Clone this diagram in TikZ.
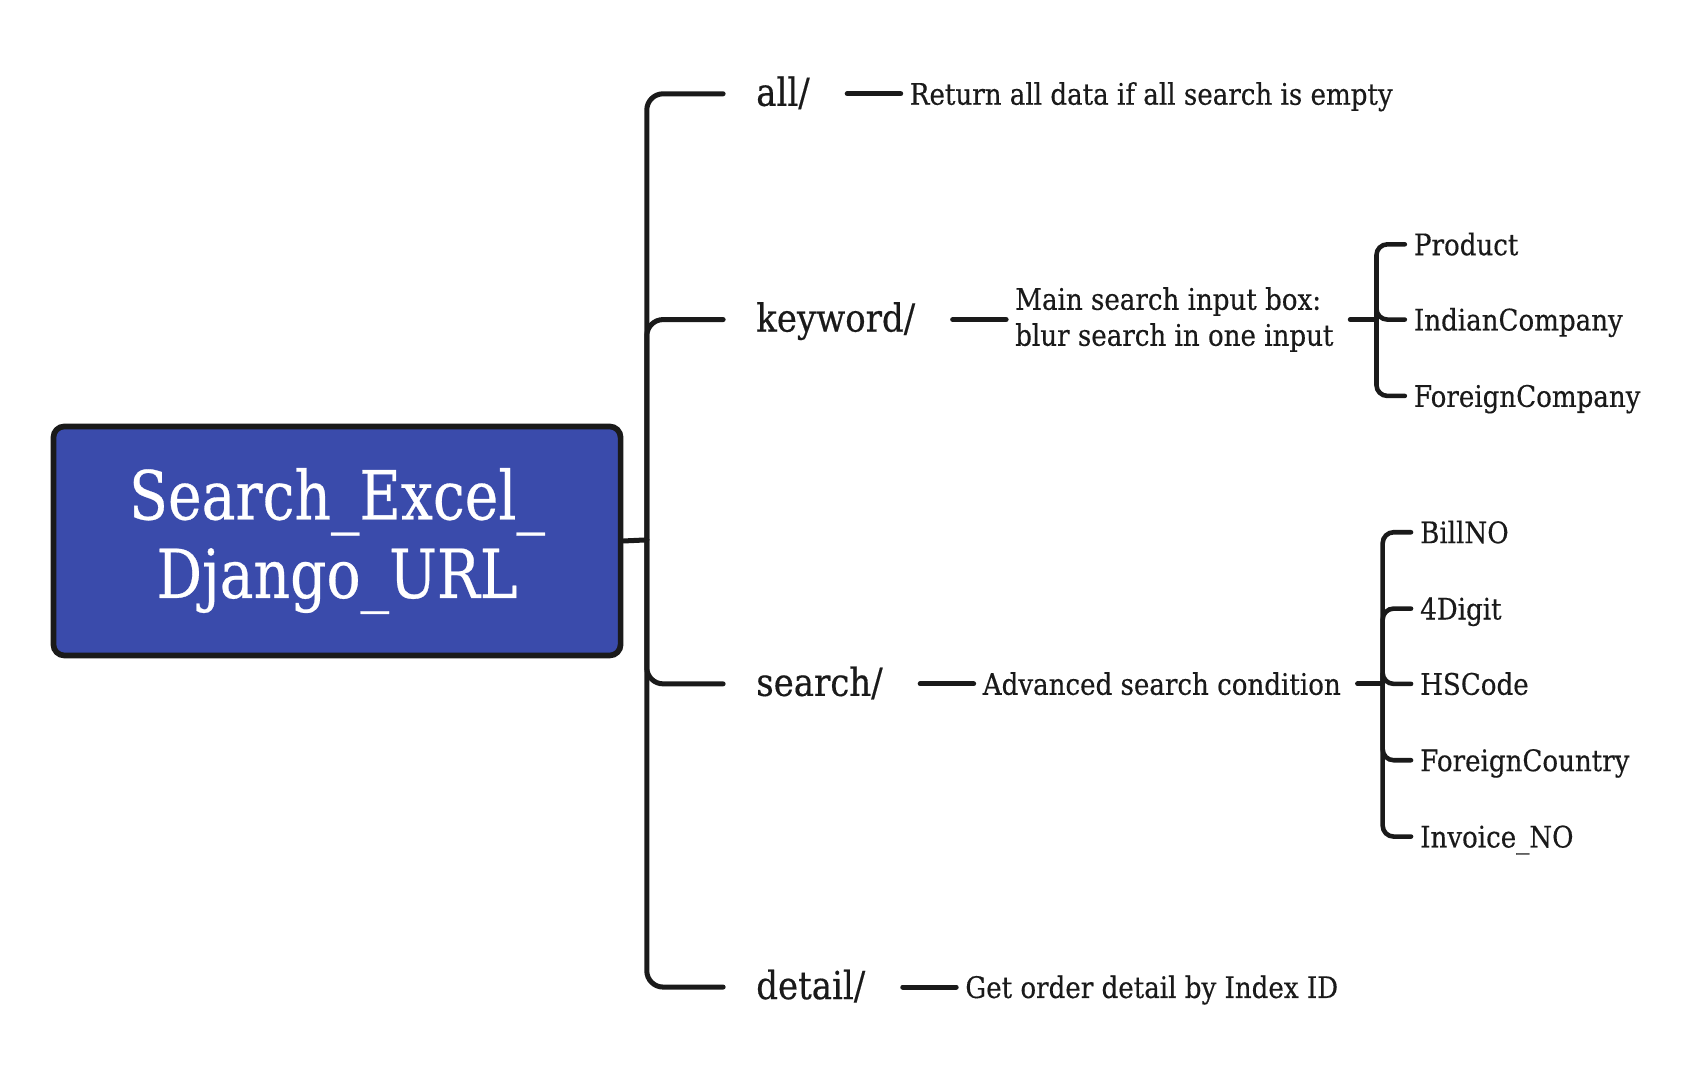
\documentclass[tikz,border=0pt]{standalone}
\usepackage{fontspec}
\setmainfont{DejaVu Serif}[FakeStretch=0.88, FakeBold=0.4]
\newfontfamily\rootfont{DejaVu Serif}[FakeStretch=0.84, FakeBold=0.4]
\usetikzlibrary{positioning,calc}
\definecolor{rootblue}{HTML}{3A4BAB}
\definecolor{ink}{HTML}{1A1A1A}
\begin{document}
\begin{tikzpicture}[x=0.5pt,y=-0.5pt,
  rootbox/.style={draw=ink, fill=rootblue, line width=2.6pt, rounded corners=5pt,
    minimum width=260pt, minimum height=105pt, text=white, align=center,
    font=\rootfont\fontsize{31}{36}\selectfont},
  lvlone/.style={anchor=west, inner xsep=15pt, inner ysep=0pt, text height=13pt, text depth=2pt,
    font=\fontsize{17.7}{20}\selectfont, text=ink},
  lvltwo/.style={anchor=west, inner xsep=4pt, inner ysep=0pt, align=left,
    font=\fontsize{13.6}{16.5}\selectfont, text=ink},
  oneline/.style={lvltwo, text height=12pt, text depth=2pt},
  conn/.style={draw=ink, line width=2.3pt, line cap=round},
  trunk/.style={conn, rounded corners=7.5pt},
  brace/.style={draw=ink, line width=2.1pt, line cap=round, rounded corners=5pt}]
\useasboundingbox (0,0) rectangle (1566,990);

% root
\node[rootbox] (root) at (309,496) {Search\_Excel\_\\Django\_URL};
\coordinate (J) at (593,495);

% level one
\node[lvlone] (all) at (663,86) {all/};
\node[lvlone] (kw) at (663,293) {keyword/};
\node[lvlone] (srch) at (663,627) {search/};
\node[lvlone] (det) at (663,905) {detail/};

% level two
\node[oneline] (ret) at ($(all.east)+(53,0)$) {Return all data if all search is empty};
\node[lvltwo] (kwtxt) at ($(kw.east)+(53,0)$) {Main search input box:\\blur search in one input};
\node[oneline] (adv) at ($(srch.east)+(53,0)$) {Advanced search condition};
\node[oneline] (dettxt) at ($(det.east)+(53,0)$) {Get order detail by Index ID};

% level three
\coordinate (KB) at ($(kwtxt.east)+(31,0)$);
\node[oneline] (prod) at ($(KB)+(26,-69)$) {Product};
\node[oneline] (ind) at ($(KB)+(26,0)$) {IndianCompany};
\node[oneline] (forc) at ($(KB)+(26,70)$) {ForeignCompany};

\coordinate (SB) at ($(adv.east)+(30,0)$);
\node[oneline] (bill) at ($(SB)+(26,-139)$) {BillNO};
\node[oneline] (four) at ($(SB)+(26,-69)$) {4Digit};
\node[oneline] (hs) at ($(SB)+(26,0)$) {HSCode};
\node[oneline] (fcty) at ($(SB)+(26,70)$) {ForeignCountry};
\node[oneline] (inv) at ($(SB)+(26,140)$) {Invoice\_NO};

% connectors
\draw[conn] (root.east) -- (J);
\draw[trunk] (J) |- (all.west);
\draw[trunk] (J) |- (kw.west);
\draw[trunk] (J) |- (srch.west);
\draw[trunk] (J) |- (det.west);

\draw[conn, shorten <=2pt] (all.east) -- (ret.west);
\draw[conn, shorten <=2pt] (kw.east) -- (kwtxt.west);
\draw[conn, shorten <=2pt] (srch.east) -- (adv.west);
\draw[conn, shorten <=2pt] (det.east) -- (dettxt.west);

\draw[conn, shorten <=3.5pt] (kwtxt.east) -- (KB);
\foreach \n in {prod,ind,forc} \draw[brace] (KB) |- (\n.west);
\draw[conn, shorten <=3.5pt] (adv.east) -- (SB);
\foreach \n in {bill,four,hs,fcty,inv} \draw[brace] (SB) |- (\n.west);
\end{tikzpicture}
\end{document}
